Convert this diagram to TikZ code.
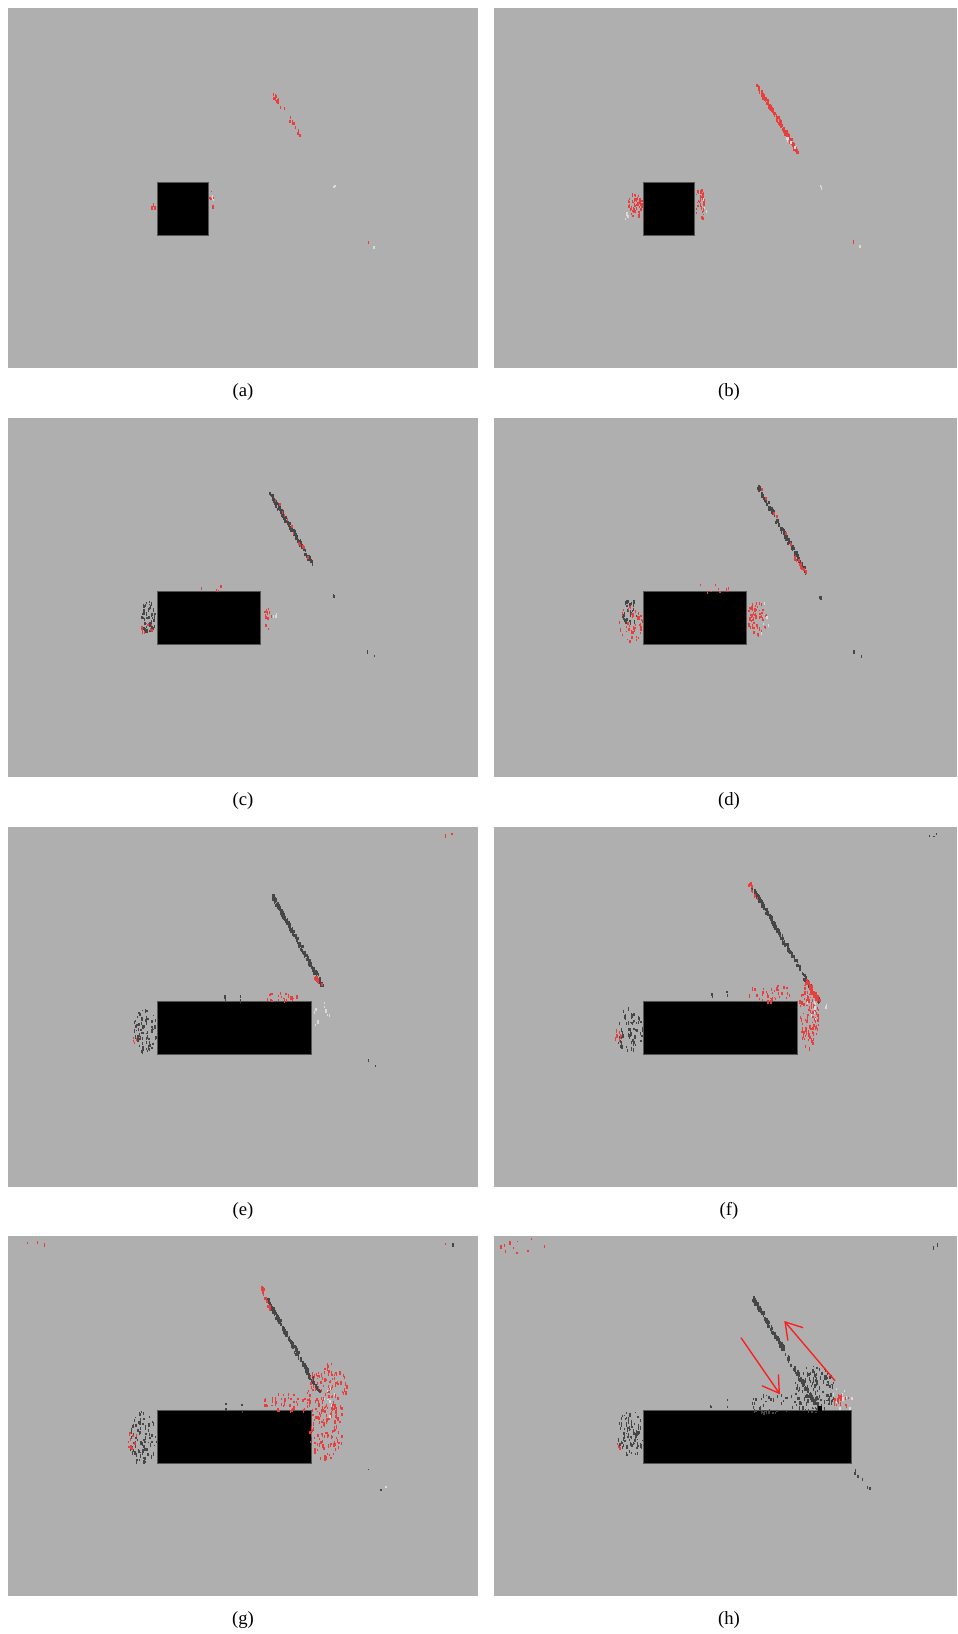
\documentclass[tikz,border=0pt]{standalone}
\usepackage{fontspec}
\setmainfont{Liberation Serif}
\usepackage{tikz}
\usetikzlibrary{arrows.meta}

\definecolor{bggray}{RGB}{175,175,175}
\definecolor{speckred}{RGB}{232,62,62}
\definecolor{speckdark}{RGB}{70,70,70}
\definecolor{speckmid}{RGB}{105,105,105}
\definecolor{specklight}{RGB}{218,218,218}
\definecolor{boxedge}{RGB}{85,85,85}
\definecolor{arrowred}{RGB}{250,30,30}

% scattered pixels in the ellipse of a box: x, y, width, height, count, colour
\newcommand{\speckle}[6]{%
  \foreach \dd in {1,...,#5}{%
    \pgfmathsetmacro{\rr}{sqrt(rnd)}%
    \pgfmathsetmacro{\aa}{360*rnd}%
    \fill[#6] ({#1+#3/2*(1+\rr*cos(\aa))},{#2+#4/2*(1+\rr*sin(\aa))}) rectangle ++(1.3,{1.5+rnd*2.5});
  }}

% pixels along a line: x0, y0, x1, y1, count, colour
\newcommand{\streak}[6]{%
  \foreach \dd in {1,...,#5}{%
    \pgfmathsetmacro{\tpos}{rnd}%
    \fill[#6] ({#1+\tpos*(#3-#1)+rnd*3-1.5},{#2+\tpos*(#4-#2)+rnd*3-1.5}) rectangle ++(1.6,3);
  }}

\begin{document}
\begin{tikzpicture}[x=0.75pt, y=-0.75pt,
  panel/.style={fill=bggray},
  obstacle/.style={fill=black, draw=boxedge, line width=0.6pt},
  caption/.style={font=\fontsize{14}{16}\selectfont},
  flow/.style={draw=arrowred, line width=1pt, -{Straight Barb[length=12pt,width=15pt]}}]
  \pgfmathsetseed{17}
  \useasboundingbox[fill=white] (0,0) rectangle (957,1634);

  % panels and their captions
  \foreach \name/\px/\py/\pw in {a/8/8/469.7, b/494/8/463, c/8/417.5/469.7, d/494/417.5/463,
                                 e/8/827/469.7, f/494/827/463, g/8/1236.3/469.7, h/494/1236.3/463} {
    \fill[panel] (\px,\py) rectangle ++(\pw,359.7);
    \node[caption] (cap-\name) at (\px+235,\py+383.7) {(\name)};
  }

  % (a)
  \begin{scope}[shift={(8,8)}]
    \streak{265}{85}{293}{128}{22}{speckred}
    \fill[obstacle] (149,174.3) rectangle ++(51,53);
    \speckle{141}{194}{6}{6}{4}{speckred}
    \speckle{201}{178}{5}{22}{6}{speckred}
    \speckle{202}{183}{4}{20}{3}{specklight}
    \speckle{325}{176}{2}{3}{2}{specklight}
    \speckle{359}{232}{1}{1}{1}{speckred}
    \speckle{365}{237}{1}{1}{1}{specklight}
  \end{scope}

  % (b)
  \begin{scope}[shift={(494,8)}]
    \streak{262.7}{77}{302.7}{142.7}{120}{speckred}
    \streak{290}{125}{302}{142}{6}{specklight}
    \fill[obstacle] (149,174.3) rectangle ++(51,53);
    \speckle{133}{184}{15}{25}{60}{speckred}
    \speckle{130}{196}{4}{16}{3}{specklight}
    \speckle{201}{179}{9}{34}{35}{speckred}
    \speckle{204}{190}{8}{20}{3}{specklight}
    \speckle{325}{176}{2}{3}{2}{specklight}
    \speckle{359}{232}{1}{1}{1}{speckred}
    \speckle{365}{237}{1}{1}{1}{specklight}
  \end{scope}

  % (c)
  \begin{scope}[shift={(8,417.5)}]
    \streak{262}{75}{303.7}{145}{130}{speckdark}
    \streak{262}{72}{303.7}{145}{12}{speckred}
    \fill[obstacle] (149,174.3) rectangle ++(103,53);
    \speckle{132}{183}{15}{31}{55}{speckdark}
    \speckle{131}{205}{16}{9}{10}{speckred}
    \speckle{256}{190}{8}{10}{12}{speckred}
    \speckle{256}{205}{5}{7}{4}{speckred}
    \speckle{262}{190}{12}{10}{4}{specklight}
    \speckle{190}{167}{40}{6}{4}{speckred}
    \speckle{324}{176}{2}{3}{2}{speckdark}
    \speckle{359}{232}{1}{1}{1}{speckdark}
    \speckle{365}{237}{1}{1}{1}{speckdark}
  \end{scope}

  % (d)
  \begin{scope}[shift={(494,417.5)}]
    \streak{263.7}{69}{312}{154.5}{140}{speckdark}
    \streak{300}{138}{312}{154.5}{18}{speckred}
    \streak{263.7}{66}{300}{130}{8}{speckred}
    \fill[obstacle] (149,174.3) rectangle ++(103,53);
    \speckle{128}{179}{14}{32}{35}{speckdark}
    \speckle{124}{188}{24}{37}{45}{speckred}
    \speckle{253}{182}{20}{34}{60}{speckred}
    \speckle{262}{180}{12}{40}{5}{specklight}
    \speckle{200}{164}{35}{10}{8}{speckred}
    \speckle{325}{176}{2}{3}{2}{speckdark}
    \speckle{359}{232}{1}{1}{1}{speckdark}
    \speckle{366}{237}{1}{1}{1}{speckdark}
  \end{scope}

  % (e)
  \begin{scope}[shift={(8,827)}]
    \streak{263.7}{67.3}{313.7}{157}{160}{speckdark}
    \streak{307}{150}{313.7}{157}{10}{speckred}
    \fill[obstacle] (149,174.3) rectangle ++(154,53);
    \speckle{125}{179}{23}{46}{75}{speckdark}
    \speckle{124}{208}{8}{8}{4}{speckred}
    \speckle{254}{165}{35}{9}{22}{speckred}
    \speckle{216}{164}{1}{10}{2}{speckdark}
    \speckle{231}{162}{1}{12}{2}{speckdark}
    \speckle{305}{172}{16}{35}{10}{specklight}
    \speckle{359}{232}{1}{1}{1}{speckdark}
    \speckle{366}{237}{1}{1}{1}{speckdark}
    \speckle{432}{5}{12}{4}{3}{speckred}
  \end{scope}

  % (f)
  \begin{scope}[shift={(494,827)}]
    \streak{258}{59.7}{324}{173}{180}{speckdark}
    \streak{312}{152}{324}{173}{35}{speckred}
    \streak{255}{56}{262}{70}{10}{speckred}
    \fill[obstacle] (149,174.3) rectangle ++(154,53);
    \speckle{121}{180}{27}{45}{65}{speckdark}
    \speckle{119}{200}{9}{12}{8}{speckred}
    \speckle{304}{155}{20}{66}{115}{speckred}
    \speckle{312}{165}{12}{35}{8}{specklight}
    \speckle{254}{156}{44}{18}{38}{speckred}
    \speckle{217}{163}{1}{11}{2}{speckdark}
    \speckle{232}{161}{1}{13}{2}{speckdark}
    \speckle{330}{176}{2}{3}{2}{specklight}
    \speckle{432}{4}{10}{5}{3}{speckdark}
  \end{scope}

  % (g)
  \begin{scope}[shift={(8,1236.3)}]
    \streak{257.3}{59.7}{310}{153.7}{170}{speckdark}
    \streak{253}{50}{262}{75}{14}{speckred}
    \fill[obstacle] (149,174.3) rectangle ++(154,53);
    \speckle{120}{174}{28}{52}{85}{speckdark}
    \speckle{118}{190}{10}{22}{12}{speckred}
    \speckle{298}{126}{42}{62}{140}{speckred}
    \speckle{300}{170}{34}{52}{85}{speckred}
    \speckle{310}{150}{22}{30}{8}{specklight}
    \speckle{252}{155}{52}{20}{45}{speckred}
    \speckle{217}{163}{1}{11}{2}{speckdark}
    \speckle{233}{161}{1}{13}{2}{speckdark}
    \speckle{359}{232}{1}{1}{1}{speckdark}
    \speckle{372}{253}{1}{1}{1}{speckdark}
    \speckle{377}{248}{1}{2}{1}{specklight}
    \speckle{4}{3}{40}{4}{3}{speckred}
    \speckle{434}{6}{4}{4}{1}{speckred}
    \speckle{443}{5}{2}{3}{1}{speckdark}
  \end{scope}

  % (h)
  \begin{scope}[shift={(494,1236.3)}]
    \streak{258.3}{59.7}{326}{175.4}{190}{speckdark}
    \fill[obstacle] (149,174.3) rectangle ++(208,53);
    \speckle{123}{174}{26}{47}{85}{speckdark}
    \speckle{122}{205}{6}{8}{3}{speckred}
    \speckle{297}{128}{44}{48}{120}{speckdark}
    \speckle{339}{157}{18}{14}{22}{speckred}
    \speckle{335}{150}{25}{25}{10}{specklight}
    \speckle{252}{155}{56}{22}{45}{speckdark}
    \speckle{216}{164}{1}{10}{2}{speckdark}
    \speckle{232}{162}{1}{12}{2}{speckdark}
    \streak{357}{229}{376}{254}{8}{speckdark}
    \speckle{4}{1}{46}{16}{10}{speckred}
    \speckle{436}{6}{9}{5}{2}{speckdark}
    \fill[black] (324,170) rectangle ++(4,5);
  \end{scope}

  % flow arrows in (h)
  \coordinate (in-start) at (741,1337.7);
  \coordinate (in-end) at (780,1394.3);
  \coordinate (out-start) at (835,1380.7);
  \coordinate (out-end) at (784.3,1321);
  \draw[flow] (in-start) -- (in-end);
  \draw[flow] (out-start) -- (out-end);
\end{tikzpicture}
\end{document}
